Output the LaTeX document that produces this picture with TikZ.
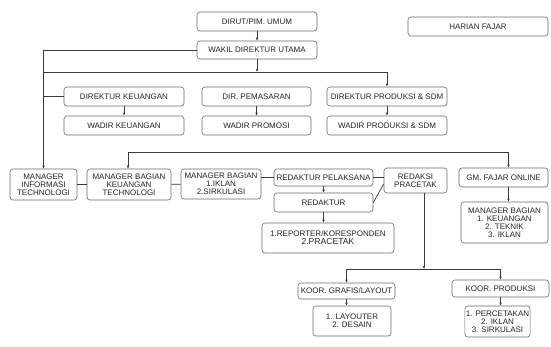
\documentclass[tikz,border=0pt]{standalone}
\usepackage{fontspec}
\setmainfont{Liberation Sans}
\usetikzlibrary{arrows.meta}

\definecolor{linegray}{HTML}{3E3838}
\definecolor{boxgray}{HTML}{6E6661}
\definecolor{textgray}{HTML}{262222}

\tikzset{
  box/.style={draw=boxgray,rounded corners=3pt,line width=0.6pt,align=center,
    inner sep=1pt,text=textgray,font=\fontsize{8}{8}\selectfont},
  conn/.style={draw=linegray,line width=0.7pt},
  arr/.style={conn,-{Latex[length=3pt,width=2.6pt]}}
}

\begin{document}
\begin{tikzpicture}[x=1pt,y=-1pt]
      \useasboundingbox (0,0) rectangle (551,346);

      \begin{scope}[every node/.style={box}]
        \node[minimum width=120pt,minimum height=19pt] (dirut) at (257,21.5) {DIRUT/PIM. UMUM};
        \node[minimum width=120pt,minimum height=18pt] (wakil) at (257,50) {WAKIL DIREKTUR UTAMA};
        \node[minimum width=140pt,minimum height=19pt] (harian) at (478,26.5) {HARIAN FAJAR};
        \node[minimum width=120pt,minimum height=19pt] (dirkeu) at (124,96.5) {DIREKTUR KEUANGAN};
        \node[minimum width=109pt,minimum height=19pt] (dirpem) at (256.5,96.5) {DIR. PEMASARAN};
        \node[minimum width=120pt,minimum height=19pt] (dirprod) at (387,96.5) {DIREKTUR PRODUKSI \& SDM};
        \node[minimum width=120pt,minimum height=19pt] (wadkeu) at (124,125.5) {WADIR KEUANGAN};
        \node[minimum width=109pt,minimum height=19pt] (wadpro) at (256.5,125.5) {WADIR PROMOSI};
        \node[minimum width=120pt,minimum height=19pt] (wadprod) at (387,125.5) {WADIR PRODUKSI \& SDM};
        \node[minimum width=67pt,minimum height=31pt] (mit) at (43.5,184.5) {MANAGER\\INFORMASI\\TECHNOLOGI};
        \node[minimum width=84pt,minimum height=31pt] (mbk) at (129,184.5) {MANAGER BAGIAN\\KEUANGAN\\TECHNOLOGI};
        \node[minimum width=80pt,minimum height=30pt] (mbi) at (221,184) {MANAGER BAGIAN\\1.IKLAN\\2.SIRKULASI};
        \node[minimum width=99pt,minimum height=17pt] (redpel) at (323.5,177.5) {REDAKTUR PELAKSANA};
        \node[minimum width=99pt,minimum height=19pt] (redaktur) at (323.5,202.5) {REDAKTUR};
        \node[minimum width=132pt,minimum height=30pt] (reporter) at (328,238) {1.REPORTER/KORESPONDEN\\{\fontsize{8.6}{9}\selectfont 2.PRACETAK}};
        \node[minimum width=63pt,minimum height=25pt] (pracetak) at (415.5,180.5) {REDAKSI\\PRACETAK};
        \node[minimum width=89pt,minimum height=19pt] (gm) at (503.5,177.5) {GM. FAJAR ONLINE};
        \node[minimum width=87pt,minimum height=41pt] (mbo) at (504.5,222.5) {MANAGER BAGIAN\\1. KEUANGAN\\2. TEKNIK\\3. IKLAN};
        \node[minimum width=97pt,minimum height=16pt] (koorgraf) at (346.5,291) {KOOR. GRAFIS/LAYOUT};
        \node[minimum width=97pt,minimum height=17pt] (koorprod) at (500.5,288.5) {KOOR. PRODUKSI};
        \node[minimum width=78pt,minimum height=30pt] (layout) at (352,321) {1. LAYOUTER\\2. DESAIN};
        \node[minimum width=61pt,minimum height=31pt] (cetak) at (497.5,321.5) {1. PERCETAKAN\\2. IKLAN\\3. SIRKULASI};
      \end{scope}

      \coordinate (bus1) at (44,72);
      \coordinate (bus2) at (128,152);
      \coordinate (bus3) at (424,269);

      \path (dirut) edge[arr] (wakil);
      \draw[arr] (wakil.west) -| (mit.north);
      \draw[arr] (wakil.south) -- (wakil.south |- bus1);
      \draw[arr] (bus1) -| (dirprod.north);
      \draw[conn] (mit.north |- dirkeu.west) -- (dirkeu.west);
      \path (dirkeu) edge[arr] (wadkeu);
      \path (dirpem) edge[arr] (wadpro);
      \path (dirprod) edge[arr] (wadprod);

      \draw[arr] (bus2) -- (bus2 |- mbk.north);
      \draw[arr] (bus2) -| ([xshift=5pt]gm.north);
      \path (mit) edge[conn] (mbk);
      \path (mbk) edge[conn] (mbi);
      \draw[conn] (mbi.east |- redpel.west) -- (redpel.west);
      \draw[conn] (redpel.east) -- (redpel.east -| pracetak.west);
      \draw[conn] (redaktur.east) -- ([yshift=-3.5pt]pracetak.west);
      \path (redpel) edge[arr] (redaktur);
      \draw[arr] (redaktur.south) -- (redaktur.south |- reporter.north);
      \draw[arr] ([xshift=5pt]gm.south) -- ([xshift=5pt]gm.south |- mbo.north);

      \draw[arr] ([xshift=8.5pt]pracetak.south) -- (bus3);
      \draw[arr] (bus3) -| (koorgraf.north);
      \draw[arr] (bus3) -| (koorprod.north);
      \draw[arr] (koorgraf.south) -- (koorgraf.south |- layout.north);
      \draw[arr] (koorprod.south) -- (koorprod.south |- cetak.north);
    \end{tikzpicture}
\end{document}
